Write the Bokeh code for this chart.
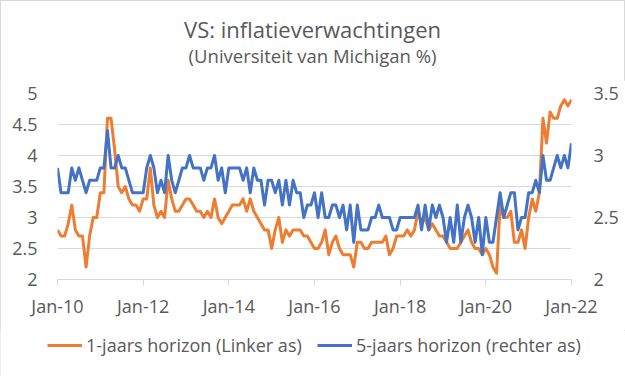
from bokeh.plotting import figure
from bokeh.layouts import column
from bokeh.models import Range1d, LinearAxis, FixedTicker, Legend, LegendItem, ColumnDataSource, Div
from bokeh.embed import file_html
from bokeh.resources import INLINE

title_text = "VS: inflatieverwachtingen"
subtitle_text = "(Universiteit van Michigan %)"
series_names = ["1-jaars horizon (Linker as)", "5-jaars horizon (rechter as)"]

x_tick_labels = ["Jan-10", "Jan-12", "Jan-14", "Jan-16", "Jan-18", "Jan-20", "Jan-22"]
left_ticks = [2, 2.5, 3, 3.5, 4, 4.5, 5]
left_tick_labels = ["2", "2.5", "3", "3.5", "4", "4.5", "5"]
right_ticks = [2, 2.5, 3, 3.5]
right_tick_labels = ["2", "2.5", "3", "3.5"]

# monthly, Jan 2010 .. Jan 2022
one_year = [
    2.8, 2.7, 2.7, 2.9, 3.2, 2.8, 2.7, 2.7, 2.2, 2.7, 3.0, 3.0,
    3.4, 3.4, 4.6, 4.6, 4.1, 3.5, 3.4, 3.5, 3.3, 3.2, 3.2, 3.1,
    3.3, 3.3, 3.8, 3.2, 3.0, 3.1, 3.0, 3.6, 3.3, 3.1, 3.1, 3.2,
    3.3, 3.3, 3.2, 3.1, 3.1, 3.0, 3.1, 3.0, 3.3, 3.0, 2.9, 3.0,
    3.1, 3.2, 3.2, 3.2, 3.3, 3.1, 3.3, 3.1, 3.0, 2.9, 2.8, 2.8,
    2.5, 2.8, 3.0, 2.6, 2.8, 2.7, 2.8, 2.8, 2.8, 2.7, 2.7, 2.6,
    2.5, 2.5, 2.6, 2.8, 2.4, 2.6, 2.7, 2.5, 2.4, 2.4, 2.4, 2.2,
    2.6, 2.6, 2.5, 2.5, 2.6, 2.6, 2.6, 2.6, 2.7, 2.4, 2.5, 2.7,
    2.7, 2.7, 2.8, 2.7, 2.8, 3.1, 2.9, 3.0, 2.8, 2.9, 2.8, 2.7,
    2.7, 2.6, 2.5, 2.5, 2.5, 2.6, 2.7, 2.8, 2.6, 2.5, 2.5, 2.4,
    2.5, 2.4, 2.2, 2.1, 3.2, 3.0, 3.0, 3.1, 2.6, 2.6, 2.8, 2.5,
    3.0, 3.3, 3.1, 3.4, 4.6, 4.2, 4.7, 4.6, 4.6, 4.8, 4.9, 4.8,
    4.9,
]
five_year = [
    2.9, 2.7, 2.7, 2.7, 2.9, 2.8, 2.9, 2.8, 2.7, 2.8, 2.8, 2.8,
    2.9, 2.9, 3.2, 2.9, 2.9, 3.0, 2.9, 2.9, 2.8, 2.7, 2.7, 2.7,
    2.7, 2.9, 3.0, 2.9, 2.7, 2.8, 2.7, 3.0, 2.8, 2.7, 2.8, 2.9,
    2.9, 3.0, 2.9, 2.9, 2.9, 2.8, 2.9, 2.9, 3.0, 2.8, 2.9, 2.7,
    2.9, 2.9, 2.9, 2.9, 2.8, 2.9, 2.7, 2.9, 2.8, 2.8, 2.6, 2.8,
    2.8, 2.7, 2.8, 2.6, 2.8, 2.6, 2.8, 2.7, 2.7, 2.5, 2.6, 2.6,
    2.7, 2.5, 2.7, 2.5, 2.5, 2.6, 2.6, 2.5, 2.6, 2.4, 2.6, 2.3,
    2.6, 2.4, 2.4, 2.4, 2.5, 2.5, 2.6, 2.5, 2.5, 2.5, 2.4, 2.4,
    2.5, 2.5, 2.5, 2.5, 2.5, 2.6, 2.4, 2.6, 2.4, 2.6, 2.5, 2.6,
    2.5, 2.3, 2.5, 2.3, 2.6, 2.3, 2.5, 2.6, 2.5, 2.3, 2.5, 2.2,
    2.5, 2.3, 2.3, 2.5, 2.7, 2.5, 2.6, 2.7, 2.7, 2.4, 2.5, 2.5,
    2.7, 2.7, 2.8, 2.7, 3.0, 2.8, 2.8, 2.9, 3.0, 2.9, 3.0, 2.9,
    3.1,
]

months = list(range(len(one_year)))
x_ticks = [i * 24 for i in range(len(x_tick_labels))]

ORANGE = "#ED7D31"
BLUE = "#4472C4"
GREY_TXT = "#595959"
GRID = "#D9D9D9"
FONT = "Open Sans"

# title block
head = Div(text=(
    '<div style="width:625px;text-align:center;font-family:\'Open Sans\';color:#595959;'
    'padding-top:15px;margin:0;">'
    '<div style="font-size:22px;line-height:28px;margin:0;">' + title_text + '</div>'
    '<div style="font-size:18.5px;line-height:25px;margin:0;">' + subtitle_text + '</div>'
    '</div>'), width=625, height=80, margin=0)

fig = figure(width=625, height=250, output_backend="svg", toolbar_location=None,
             x_range=Range1d(0, x_ticks[-1]), y_range=Range1d(left_ticks[0], left_ticks[-1]),
             min_border_left=57, min_border_right=54, min_border_top=13, min_border_bottom=51)
fig.frame_align = False
fig.extra_y_ranges = {"right": Range1d(right_ticks[0], right_ticks[-1])}
fig.outline_line_color = None
fig.background_fill_color = "white"
fig.border_fill_color = "white"

src = ColumnDataSource(dict(m=months, a=one_year, b=five_year))
r1 = fig.line("m", "a", source=src, line_color=ORANGE, line_width=3, line_join="round")
r2 = fig.line("m", "b", source=src, line_color=BLUE, line_width=3, line_join="round", y_range_name="right")

# axes
xa = fig.xaxis[0]
xa.ticker = FixedTicker(ticks=x_ticks)
xa.major_label_overrides = {t: l for t, l in zip(x_ticks, x_tick_labels)}
xa.axis_line_color = GRID
xa.major_tick_line_color = GRID
xa.major_tick_out = 6
xa.major_tick_in = 0
xa.minor_tick_line_color = None
xa.major_label_standoff = 8
xa.major_label_text_font = FONT
xa.major_label_text_font_size = "18px"
xa.major_label_text_color = GREY_TXT

ya = fig.yaxis[0]
ya.ticker = FixedTicker(ticks=left_ticks)
ya.major_label_overrides = {t: l for t, l in zip(left_ticks, left_tick_labels)}
ya.axis_line_color = None
ya.major_tick_line_color = None
ya.major_tick_out = 0
ya.major_tick_in = 0
ya.minor_tick_line_color = None
ya.minor_tick_out = 0
ya.major_label_standoff = 20
ya.major_label_text_font = FONT
ya.major_label_text_font_size = "18px"
ya.major_label_text_color = GREY_TXT

ry = LinearAxis(y_range_name="right", ticker=FixedTicker(ticks=right_ticks))
ry.major_label_overrides = {t: l for t, l in zip(right_ticks, right_tick_labels)}
ry.axis_line_color = None
ry.major_tick_line_color = None
ry.major_tick_out = 0
ry.major_tick_in = 0
ry.minor_tick_line_color = None
ry.minor_tick_out = 0
ry.major_label_standoff = 22
ry.major_label_text_font = FONT
ry.major_label_text_font_size = "18px"
ry.major_label_text_color = GREY_TXT
fig.add_layout(ry, "right")

fig.xgrid.grid_line_color = None
fig.ygrid.ticker = FixedTicker(ticks=left_ticks)
fig.ygrid.grid_line_color = GRID
fig.ygrid.grid_line_width = 1

# legend strip underneath
leg = figure(width=625, height=46, output_backend="svg", toolbar_location=None,
             x_range=Range1d(-1, 0), y_range=Range1d(-1, 0), x_axis_type=None, y_axis_type=None,
             min_border=0)
leg.frame_align = False
leg.outline_line_color = None
leg.xgrid.grid_line_color = None
leg.ygrid.grid_line_color = None
d1 = leg.line("m", "a", source=src, line_color=ORANGE, line_width=3)
d2 = leg.line("m", "b", source=src, line_color=BLUE, line_width=3)
for rend, name, vx in [(d1, series_names[0], 47), (d2, series_names[1], 317)]:
    lg = Legend(items=[LegendItem(label=name, renderers=[rend])], location=(vx, 19),
                orientation="horizontal", background_fill_alpha=0, border_line_color=None,
                padding=0, margin=0, glyph_width=35, glyph_height=20, label_height=20,
                label_standoff=4, label_text_font=FONT, label_text_font_size="18px",
                label_text_color=GREY_TXT)
    leg.add_layout(lg)

p = column(head, fig, leg, spacing=0)
p.styles = {"outline": "1px solid #D9D9D9", "outline-offset": "-1px"}

open("out.html", "w").write(file_html(p, INLINE))
